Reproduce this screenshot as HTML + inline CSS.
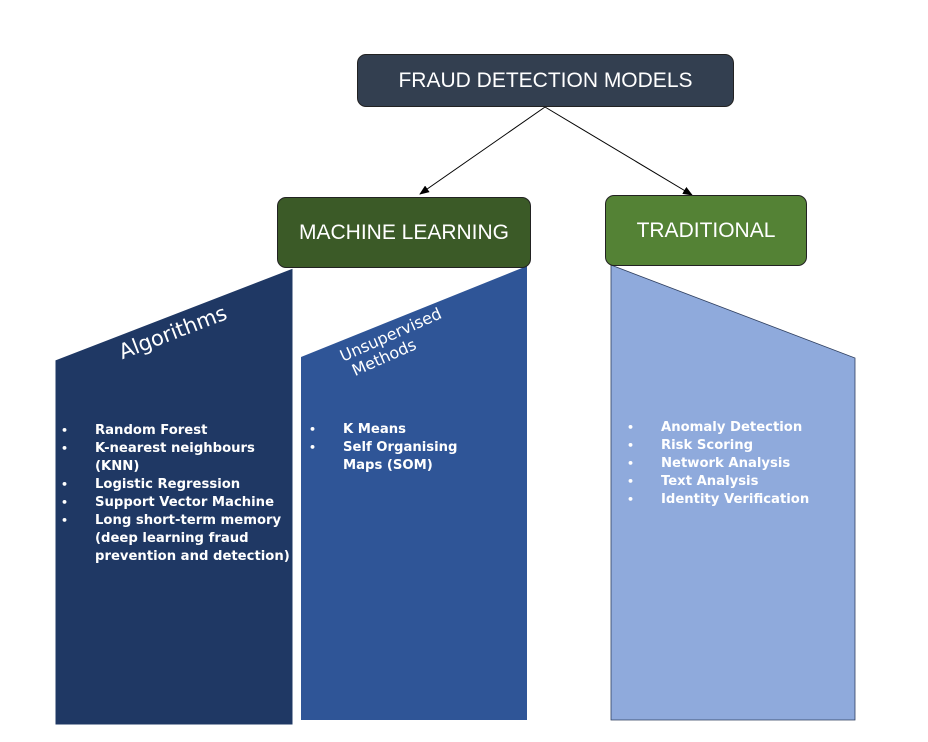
<!DOCTYPE html>
<html><head><style>
body{margin:0;width:928px;height:742px;background:#fff;position:relative;font-family:"DejaVu Sans","Liberation Sans",sans-serif;overflow:hidden}
.box{position:absolute;color:#fff;display:flex;align-items:center;justify-content:center;border:1px solid #222;border-radius:9px;font-size:21px;font-family:"Liberation Sans",sans-serif}
ul{position:absolute;margin:0;padding:0;list-style:none;color:#fff;font-weight:bold;font-size:13.2px;line-height:18px}
li{position:relative;padding-left:40px}
li:before{content:"•";position:absolute;left:6px;font-size:11px}
.rot{position:absolute;color:#fff;transform-origin:left bottom}
</style></head><body>
<svg width="928" height="742" style="position:absolute;left:0;top:0">
<defs><marker id="a" markerWidth="10" markerHeight="8" refX="9" refY="4" orient="auto"><path d="M0,0L10,4L0,8z" fill="#000"/></marker></defs>
<polygon points="55,360 293,268 293,725 55,725" fill="#1f3864" stroke="#fff"/>
<polygon points="301,357 527,266 527,720 301,720" fill="#2f5597"/>
<polygon points="611,265 855,358 855,720 611,720" fill="#8faadc" stroke="#2f3f5f" stroke-width="0.8"/>
<line x1="545" y1="107" x2="420" y2="194" stroke="#000" marker-end="url(#a)"/>
<line x1="545" y1="107" x2="692" y2="195" stroke="#000" marker-end="url(#a)"/>
</svg>
<div class="box" style="left:357px;top:54px;width:375px;height:51px;background:#333f50">FRAUD DETECTION MODELS</div>
<div class="box" style="left:277px;top:197px;width:252px;height:69px;background:#3b5a27">MACHINE LEARNING</div>
<div class="box" style="left:605px;top:195px;width:200px;height:69px;background:#548235">TRADITIONAL</div>
<div class="rot" style="left:124px;top:340px;font-size:21px;transform:rotate(-21deg)">Algorithms</div>
<div class="rot" style="left:352px;top:346px;font-size:16px;line-height:18px;transform:rotate(-24deg)">Unsupervised<br>&nbsp;Methods</div>
<ul style="left:55px;top:422px;width:240px"><li>Random Forest</li><li>K-nearest neighbours (KNN)</li><li>Logistic Regression</li><li>Support Vector Machine</li><li>Long short-term memory (deep learning fraud prevention and detection)</li></ul>
<ul style="left:303px;top:421px;width:175px"><li>K Means</li><li>Self Organising Maps (SOM)</li></ul>
<ul style="left:621px;top:419px;width:230px"><li>Anomaly Detection</li><li>Risk Scoring</li><li>Network Analysis</li><li>Text Analysis</li><li>Identity Verification</li></ul>
</body></html>
